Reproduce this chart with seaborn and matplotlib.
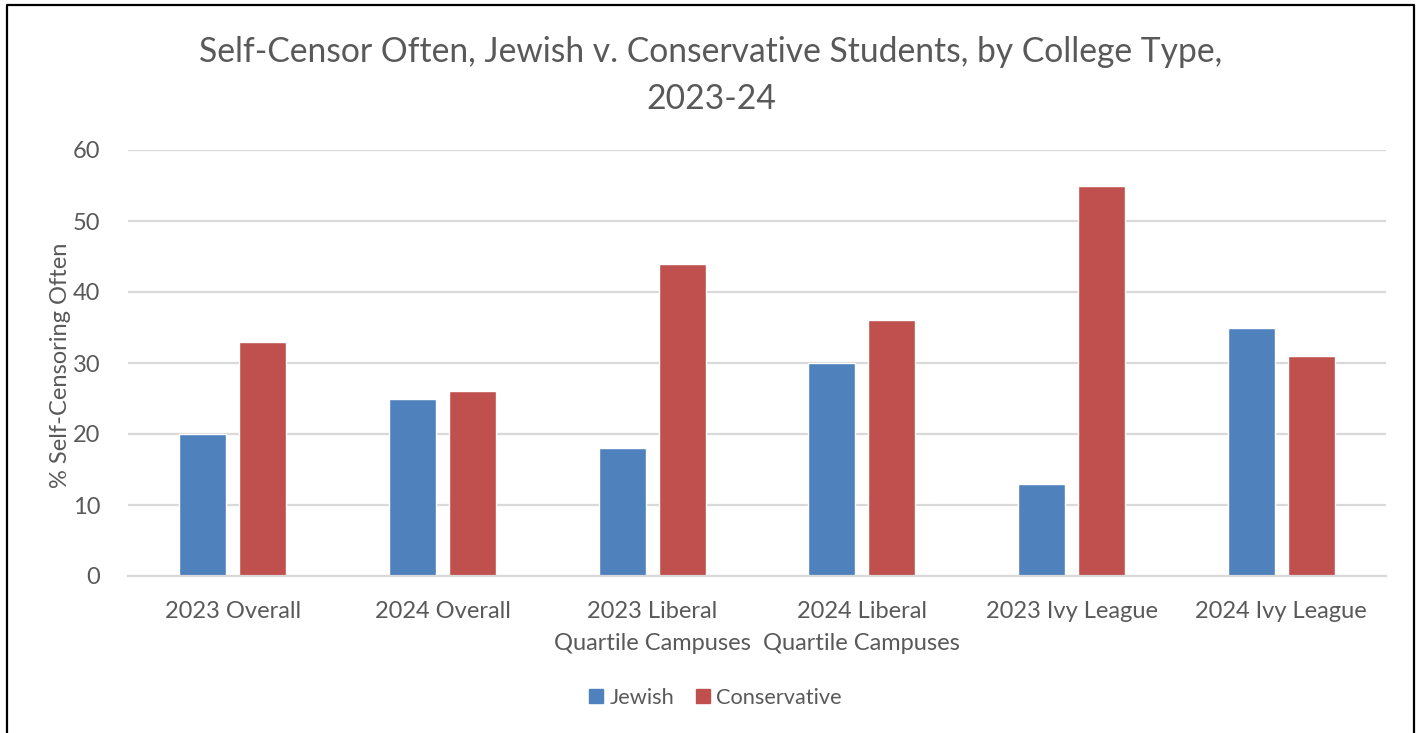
import matplotlib
matplotlib.use("Agg")
import matplotlib.pyplot as plt
from matplotlib.lines import Line2D
import pandas as pd
import seaborn as sns

# Data
categories = ["2023 Overall", "2024 Overall", "2023 Liberal\nQuartile Campuses",
              "2024 Liberal\nQuartile Campuses", "2023 Ivy League", "2024 Ivy League"]
jewish = [20, 25, 18, 30, 13, 35]
conservative = [33, 26, 44, 36, 55, 31]
series_names = ["Jewish", "Conservative"]
y_ticks = [0, 10, 20, 30, 40, 50, 60]

df = pd.DataFrame({
    "category": categories * 2,
    "group": [series_names[0]] * len(categories) + [series_names[1]] * len(categories),
    "value": jewish + conservative,
})

sns.set_theme(style="white")
plt.rcParams["font.family"] = ["Lato", "DejaVu Sans"]

TEXT = "#595959"
GRID = "#D9D9D9"
palette = {"Jewish": "#4F81BD", "Conservative": "#C0504D"}

fig = plt.figure(figsize=(14.22, 7.33), dpi=100)
ax = fig.add_axes([128 / 1422, 1 - 576 / 733, (1386 - 128) / 1422, (576 - 150) / 733])

sns.barplot(data=df, x="category", y="value", hue="group", order=categories,
            hue_order=series_names, palette=palette, width=0.572, gap=0.217,
            saturation=1, ax=ax, legend=False, errorbar=None)

ax.set_ylim(0, 60)
ax.set_yticks(y_ticks)
ax.set_xlim(-0.5, len(categories) - 0.5)
ax.yaxis.grid(True, color=GRID, linewidth=1.6)
ax.set_axisbelow(True)
for s in ["top", "right", "left"]:
    ax.spines[s].set_visible(False)
ax.spines["bottom"].set_color(GRID)
ax.spines["bottom"].set_linewidth(1.6)

ax.tick_params(axis="both", length=0, labelsize=17, colors=TEXT)
ax.tick_params(axis="x", pad=18)
ax.tick_params(axis="y", pad=20)
for lbl in ax.get_xticklabels():
    lbl.set_linespacing(1.65)
ax.set_xlabel("")
ax.set_ylabel("% Self-Censoring Often", fontsize=17, color=TEXT)
ax.yaxis.set_label_coords(-0.045, 0.495)

fig.text(0.5, 1 - 75.5 / 733,
         "Self-Censor Often, Jewish v. Conservative Students, by College Type,\n2023-24",
         ha="center", va="center", fontsize=24.2, color=TEXT, linespacing=1.6)

handles = [plt.Rectangle((0, 0), 1, 1, color=palette[n]) for n in series_names]
fig.legend(handles, series_names, loc="center",
           bbox_to_anchor=(0.5 + 4.5 / 1422, 1 - 698 / 733),
           ncol=2, frameon=False, fontsize=15.7, labelcolor=TEXT,
           handlelength=0.63, handleheight=0.63, handletextpad=0.3, columnspacing=1.0)

# Outer border (left, top, right)
fig.add_artist(Line2D([7 / 1422, 7 / 1422, 1414 / 1422, 1414 / 1422],
                      [-0.1, 1 - 5 / 733, 1 - 5 / 733, -0.1],
                      transform=fig.transFigure, color="black", linewidth=1.6))

fig.savefig("out.png", dpi=100)
